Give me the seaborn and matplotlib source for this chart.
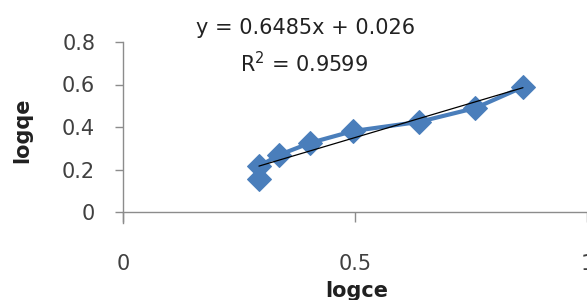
import matplotlib
matplotlib.use('Agg')
import matplotlib.pyplot as plt
import seaborn as sns
import numpy as np
import pandas as pd

# Freundlich isotherm points
logce = [0.293, 0.293, 0.336, 0.403, 0.496, 0.638, 0.759, 0.862]
logqe = [0.155, 0.215, 0.268, 0.325, 0.381, 0.424, 0.489, 0.588]

# Trendline as printed on the chart
slope = 0.6485
intercept = 0.026
r2 = 0.9599

x_ticks = [0, 0.5, 1]
x_tick_labels = ['0', '0.5', '1']
y_ticks = [0, 0.2, 0.4, 0.6, 0.8]
y_tick_labels = ['0', '0.2', '0.4', '0.6', '0.8']

df = pd.DataFrame({'logce': logce, 'logqe': logqe})

sns.set_style('white')
plt.rcParams['font.family'] = ['DejaVu Sans']

fig = plt.figure(figsize=(5.87, 3.0), dpi=100)
ax = fig.add_axes([123 / 587, 1 - 212 / 300, 1 - 123 / 587, 170 / 300])

blue = '#4a7ebb'
# estimator=None so the two points sharing x=0.293 are kept apart
sns.lineplot(data=df, x='logce', y='logqe', sort=False, estimator=None, ax=ax,
             color=blue, linewidth=3, marker='D', markersize=12,
             markeredgecolor=blue, zorder=2)

# linear trendline across the data range
fit_x = np.array([min(logce), max(logce)])
ax.plot(fit_x, slope * fit_x + intercept, color='black', linewidth=0.9, zorder=3)

ax.set_xlim(0, 1)
ax.set_ylim(0, 0.8)
ax.set_xticks(x_ticks)
ax.set_xticklabels(x_tick_labels)
ax.set_yticks(y_ticks)
ax.set_yticklabels(y_tick_labels)

for side in ['top', 'right']:
    ax.spines[side].set_visible(False)
for side in ['left', 'bottom']:
    ax.spines[side].set_color('#8c8c8c')
    ax.spines[side].set_linewidth(1.0)
ax.spines['left'].set_bounds(-0.05, 0.8)

ax.tick_params(axis='y', direction='out', length=6, width=1, color='#8c8c8c',
               labelsize=15, labelcolor='#404040', pad=14, left=True)
ax.tick_params(axis='x', direction='out', length=7, width=1, color='#8c8c8c',
               labelsize=15, labelcolor='#404040', pad=23, bottom=True)

ax.set_xlabel('logce', fontsize=15, fontweight='bold', color='#202020')
ax.xaxis.set_label_coords((357 - 123) / (587 - 123), -(297 - 212) / 170)
ax.xaxis.label.set_va('baseline')
ax.set_ylabel('logqe', fontsize=15, fontweight='bold', color='#202020')
ax.yaxis.set_label_coords(-(123 - 22) / 464, (212 - 130) / 170)
ax.yaxis.label.set_va('center')

fig.text(306 / 587, 1 - 28 / 300, f'y = {slope}x + {intercept}', ha='center',
         va='center', fontsize=15, color='#222222')
fig.text(304 / 587, 1 - 64 / 300, f'R$^2$ = {r2}', ha='center', va='center',
         fontsize=15, color='#222222')

for line in ax.get_lines():
    line.set_clip_on(False)

fig.savefig('out.png', dpi=100)
